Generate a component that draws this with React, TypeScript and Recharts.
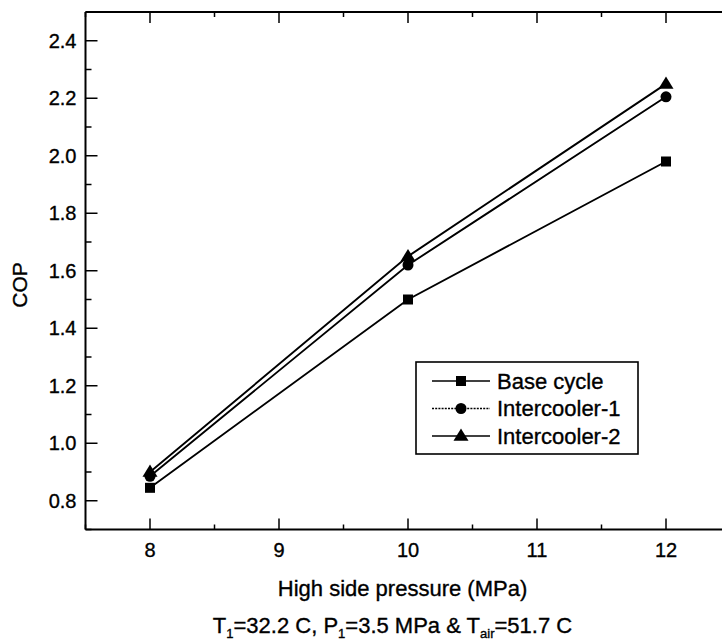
import { LineChart, Line, XAxis, YAxis, Legend } from 'recharts'

const pressures = [8, 10, 12]
const baseCycle = [0.845, 1.5, 1.98]
const intercooler1 = [0.885, 1.62, 2.205]
const intercooler2 = [0.9, 1.65, 2.25]

const seriesNames = ['Base cycle', 'Intercooler-1', 'Intercooler-2']

const xTicks = [7.5, 8, 8.5, 9, 9.5, 10, 10.5, 11, 11.5, 12, 12.5]
const xTickLabels = ['8', '9', '10', '11', '12']
const yTicks = [0.7, 0.8, 0.9, 1.0, 1.1, 1.2, 1.3, 1.4, 1.5, 1.6, 1.7, 1.8, 1.9, 2.0, 2.1, 2.2, 2.3, 2.4, 2.5]
const yTickLabels = ['0.8', '1.0', '1.2', '1.4', '1.6', '1.8', '2.0', '2.2', '2.4']

const data = pressures.map((p, i) => ({
  p,
  base: baseCycle[i],
  ic1: intercooler1[i],
  ic2: intercooler2[i],
}))

const FONT = '"Liberation Sans", Arial, Helvetica, sans-serif'
// the scan makes the type look a bit heavier than plain Arial
const ink = { fill: '#000', stroke: '#000', strokeWidth: 0.35 }

// markers
const drawSquare = (cx: number, cy: number, k?: any) => (
  <rect key={k} x={cx - 5} y={cy - 5} width={10} height={10} fill="#000" />
)
const drawCircle = (cx: number, cy: number, k?: any) => (
  <circle key={k} cx={cx} cy={cy} r={5.5} fill="#000" />
)
const drawTriangle = (cx: number, cy: number, k?: any) => (
  <path key={k} d={`M${cx},${cy - 7.5} L${cx + 7.5},${cy + 4.8} L${cx - 7.5},${cy + 4.8} Z`} fill="#000" />
)

const markers: Record<string, typeof drawSquare> = {
  base: drawSquare,
  ic1: drawCircle,
  ic2: drawTriangle,
}

function xTick(props: any) {
  const { x, y, payload } = props
  const label = String(payload.value)
  const major = xTickLabels.includes(label)
  return (
    <g>
      <line x1={x} x2={x} y1={y} y2={y - (major ? 11 : 5)} stroke="#000" strokeWidth={1.5} />
      {major && (
        <text x={x} y={y + 27.5} textAnchor="middle" fontSize={20} fontFamily={FONT} {...ink}>
          {label}
        </text>
      )}
    </g>
  )
}

function topTick(props: any) {
  const { x, y, payload } = props
  const major = xTickLabels.includes(String(payload.value))
  return <line x1={x} x2={x} y1={y} y2={y + (major ? 11 : 5)} stroke="#000" strokeWidth={1.5} />
}

function yTick(props: any) {
  const { x, y, payload } = props
  const label = Number(payload.value).toFixed(1)
  const major = yTickLabels.includes(label)
  return (
    <g>
      <line x1={x} x2={x + (major ? 12 : 6)} y1={y} y2={y} stroke="#000" strokeWidth={1.5} />
      {major && (
        <text x={x - 9} y={y + 7} textAnchor="end" fontSize={20} fontFamily={FONT} {...ink}>
          {label}
        </text>
      )}
    </g>
  )
}

function xTitle(props: any) {
  const { x, y } = props.viewBox
  return (
    <g fontFamily={FONT}>
      <text x={x + 317} y={y + 66.5} textAnchor="middle" fontSize={22} {...ink}>
        High side pressure (MPa)
      </text>
      <text x={x + 307} y={y + 103.5} textAnchor="middle" fontSize={22} {...ink}>
        T<tspan fontSize={13} dy={5} {...ink}>1</tspan>
        <tspan dy={-5} {...ink}>=32.2 C, P</tspan>
        <tspan fontSize={13} dy={5} {...ink}>1</tspan>
        <tspan dy={-5} {...ink}>=3.5 MPa &amp; T</tspan>
        <tspan fontSize={13} dy={5} {...ink}>air</tspan>
        <tspan dy={-5} {...ink}>=51.7 C</tspan>
      </text>
    </g>
  )
}

function yTitle(props: any) {
  const { x, y } = props.viewBox
  const cx = x - 65
  const cy = y + 273
  return (
    <text
      x={cx}
      y={cy}
      transform={`rotate(-90 ${cx} ${cy})`}
      textAnchor="middle"
      dominantBaseline="central"
      fontSize={21}
      fontFamily={FONT}
      {...ink}
    >
      COP
    </text>
  )
}

function renderLegend(props: any) {
  const items = props.payload ?? []
  return (
    <svg width={224} height={94} style={{ display: 'block' }}>
      <rect x={1} y={1} width={222} height={92} fill="#fff" stroke="#000" strokeWidth={1.6} />
      {items.map((it: any, i: number) => {
        const cy = 20 + i * 27.5
        const key = String(it.dataKey)
        return (
          <g key={key}>
            <line
              x1={17}
              x2={75}
              y1={cy}
              y2={cy}
              stroke="#000"
              strokeWidth={1.6}
              strokeDasharray={key === 'ic1' ? '2 1.2' : undefined}
            />
            {markers[key](46, cy)}
            <text x={82} y={cy + 7.5} fontSize={22} fontFamily={FONT} {...ink}>
              {it.value}
            </text>
          </g>
        )
      })}
    </svg>
  )
}

const seriesKeys = ['base', 'ic1', 'ic2']

export default function App() {
  return (
    <div style={{ position: 'absolute', left: 0, top: 0, width: 722, height: 642, overflow: 'hidden', background: '#fff' }}>
      <LineChart
        width={760}
        height={642}
        data={data}
        margin={{ top: 11, left: 84.5, right: 29.5, bottom: 111.5 }}
      >
        <XAxis
          dataKey="p"
          type="number"
          domain={[7.5, 12.5]}
          ticks={xTicks}
          interval={0}
          height={1}
          tickSize={0}
          tickMargin={0}
          tickLine={false}
          tick={xTick}
          axisLine={{ stroke: '#000', strokeWidth: 2 }}
          label={{ content: xTitle }}
          allowDataOverflow
        />
        <XAxis
          xAxisId="top"
          orientation="top"
          dataKey="p"
          type="number"
          domain={[7.5, 12.5]}
          ticks={xTicks}
          interval={0}
          height={1}
          tickSize={0}
          tickMargin={0}
          tickLine={false}
          tick={topTick}
          axisLine={{ stroke: '#000', strokeWidth: 2 }}
          allowDataOverflow
        />
        <YAxis
          type="number"
          domain={[0.7, 2.5]}
          ticks={yTicks}
          interval={0}
          width={1}
          tickSize={0}
          tickMargin={0}
          tickLine={false}
          tick={yTick}
          axisLine={{ stroke: '#000', strokeWidth: 2 }}
          label={{ content: yTitle }}
          allowDataOverflow
        />
        {seriesKeys.map((k, i) => (
          <Line
            key={k}
            dataKey={k}
            name={seriesNames[i]}
            type="linear"
            stroke="#000"
            strokeWidth={1.9}
            dot={(p: any) => markers[k](p.cx, p.cy, `${k}-${p.index}`)}
            activeDot={false}
            isAnimationActive={false}
          />
        ))}
        <Legend
          layout="vertical"
          align="center"
          verticalAlign="middle"
          content={renderLegend}
          wrapperStyle={{ left: 415, top: 361, width: 224, height: 94, margin: 0 }}
        />
      </LineChart>
    </div>
  )
}
